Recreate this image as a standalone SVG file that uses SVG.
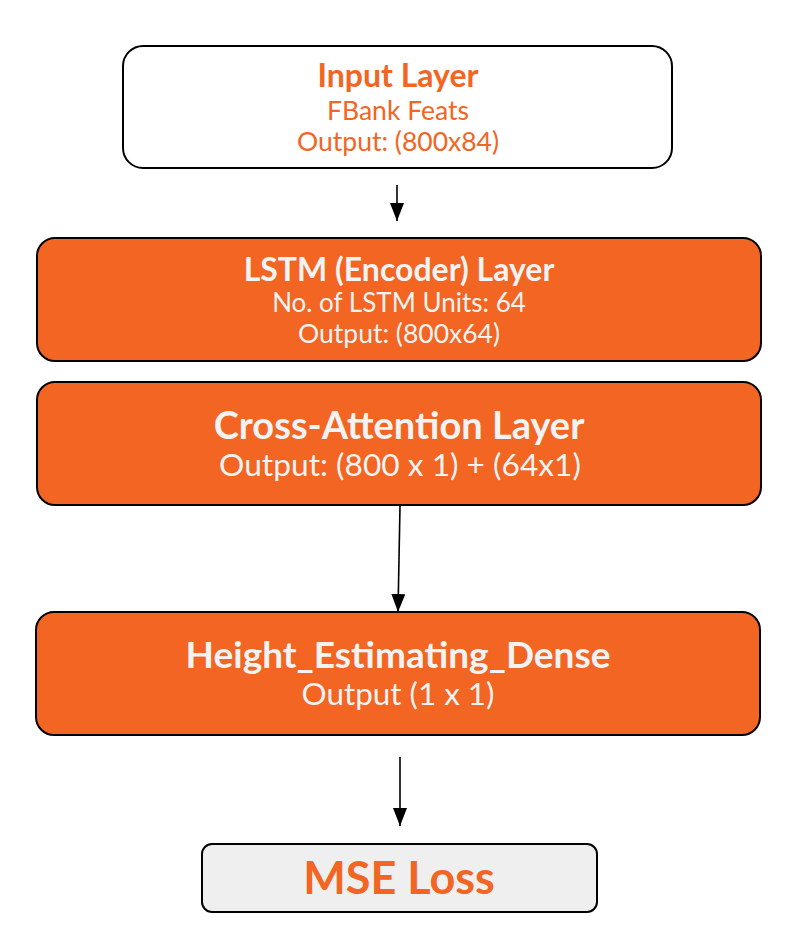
<svg xmlns="http://www.w3.org/2000/svg" width="785" height="945" viewBox="0 0 785 945">
<defs>
<style>
.box{stroke:#000;stroke-width:2}
.or{fill:#f26522}
.t{font-family:Lato,"Liberation Sans",sans-serif;text-anchor:middle}
.b{font-weight:bold}
.w{fill:#f3f3f3}
.o{fill:#f26522}
.conn{stroke:#000;stroke-width:1.6;fill:none}
</style>
<marker id="ah" markerWidth="18" markerHeight="14" refX="18" refY="7" orient="auto" markerUnits="userSpaceOnUse" viewBox="0 0 18 14">
<path d="M0,0 L18,7 L0,14 Z" fill="#000"/>
</marker>
</defs>
<rect width="785" height="945" fill="#fff"/>
<g id="connectors">
<line class="conn" x1="397" y1="185" x2="397" y2="221" marker-end="url(#ah)"/>
<line class="conn" x1="400" y1="506" x2="398" y2="612" marker-end="url(#ah)"/>
<line class="conn" x1="400" y1="757" x2="400" y2="826" marker-end="url(#ah)"/>
</g>
<g id="input">
<rect class="box" x="123" y="46" width="549" height="122" rx="20" fill="#fff"/>
<text class="t b o" x="398" y="87" font-size="32">Input Layer</text>
<text class="t o" x="398" y="120" font-size="26.5">FBank Feats</text>
<text class="t o" x="398" y="151" font-size="26.5">Output: (800x84)</text>
</g>
<g id="lstm">
<rect class="box or" x="37" y="238" width="724" height="123" rx="18"/>
<text class="t b w" x="399" y="281" font-size="32">LSTM (Encoder) Layer</text>
<text class="t w" x="399" y="312" font-size="26">No. of LSTM Units: 64</text>
<text class="t w" x="399" y="343" font-size="26.5">Output: (800x64)</text>
</g>
<g id="cross">
<rect class="box or" x="37" y="382" width="724" height="123" rx="18"/>
<text class="t b w" x="399" y="439" font-size="38">Cross-Attention Layer</text>
<text class="t w" x="400" y="476" font-size="31.7">Output: (800 x 1) + (64x1)</text>
</g>
<g id="dense">
<rect class="box or" x="36" y="612" width="724" height="123" rx="18"/>
<text class="t b w" x="398" y="668" font-size="37">Height_Estimating_Dense</text>
<text class="t w" x="398" y="705" font-size="31.4">Output (1 x 1)</text>
</g>
<g id="mse">
<rect class="box" x="202" y="844" width="395" height="68" rx="10" fill="#efefef"/>
<text class="t b o" x="399" y="894" font-size="45">MSE Loss</text>
</g>
</svg>
